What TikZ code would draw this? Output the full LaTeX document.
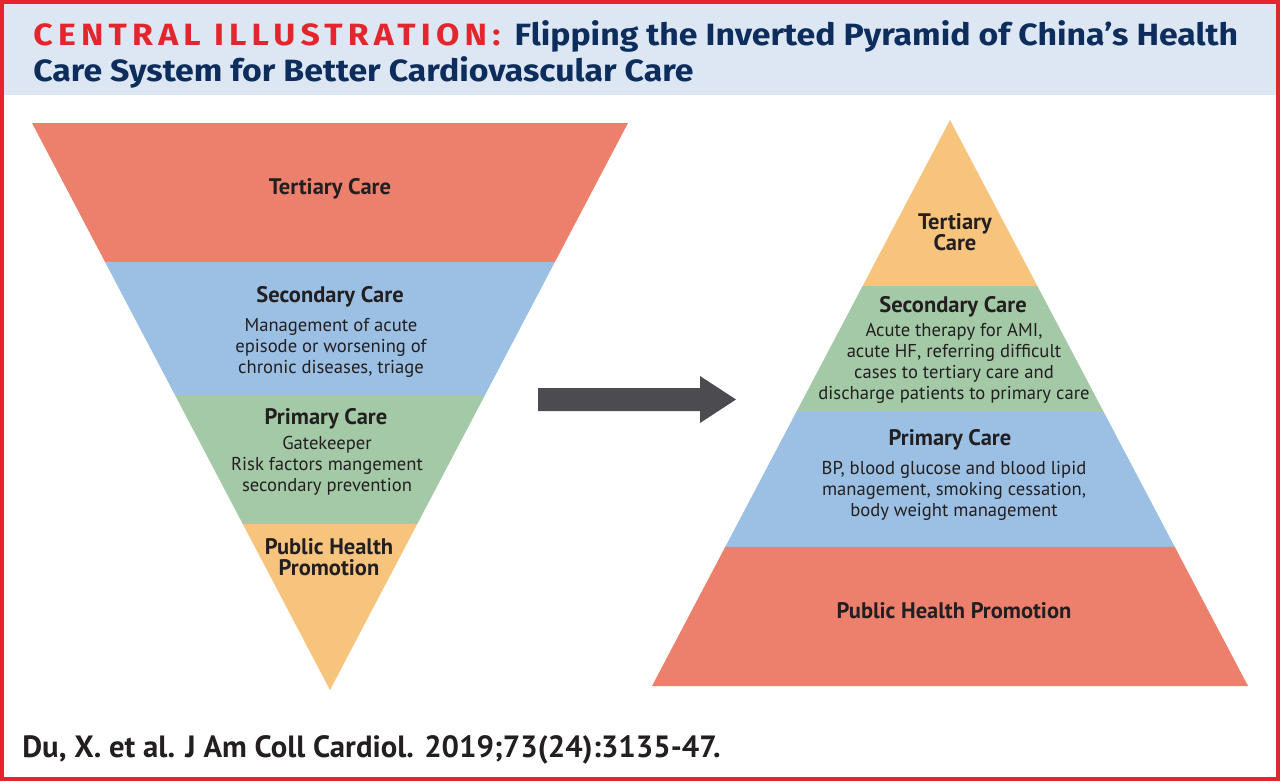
\documentclass[tikz,border=0pt]{standalone}
\usepackage{fontspec}
\setmainfont{PT Sans}
\newfontfamily\titlefont[FakeStretch=1.1]{Fira Sans}
\newfontfamily\capsfont[FakeStretch=1.1,LetterSpace=17]{Fira Sans}
\usetikzlibrary{calc}

\definecolor{framered}{HTML}{E3262D}
\definecolor{bandblue}{HTML}{DDE7F4}
\definecolor{titleblue}{HTML}{0D2D5C}
\definecolor{salmon}{HTML}{EC806C}
\definecolor{sky}{HTML}{9CC0E3}
\definecolor{sage}{HTML}{A4C9A7}
\definecolor{apricot}{HTML}{F7C47E}
\definecolor{ink}{HTML}{231F20}
\definecolor{arrowgrey}{HTML}{4B4B50}

\begin{document}
\begin{tikzpicture}[x=0.02cm,y=-0.02cm,
	heading/.style={font=\bfseries\fontsize{12.8}{12}\selectfont,text=ink,align=center,inner sep=0pt},
	detail/.style={font=\fontsize{10.6}{11.9}\selectfont,text=ink,align=center,inner sep=0pt}]
	\useasboundingbox (0,0) rectangle (1280,781);
	% header
	\fill[bandblue] (4,4) rectangle (1276,95);
	\draw[framered,line width=2.27pt] (2,2) rectangle (1278,779);
	\node[anchor=base west,inner sep=0pt,font=\titlefont\bfseries\fontsize{17.5}{22}\selectfont] (title1) at (33,45)
		{\textcolor{framered}{\capsfont CENTRAL ILLUSTRATION:}\hspace{0.2em} \textcolor{titleblue}{Flipping the Inverted Pyramid of China’s Health}};
	\node[anchor=base west,inner sep=0pt,font=\titlefont\bfseries\fontsize{17.5}{22}\selectfont,text=titleblue] (title2) at (33,81)
		{Care System for Better Cardiovascular Care};
	
	% inverted pyramid
	\coordinate (ltl) at (32,123);
	\coordinate (ltr) at (628,123);
	\coordinate (lap) at (330,690);
	\coordinate (l1l) at ($(ltl)!0.2451!(lap)$);
	\coordinate (l1r) at ($(ltr)!0.2451!(lap)$);
	\coordinate (l2l) at ($(ltl)!0.4815!(lap)$);
	\coordinate (l2r) at ($(ltr)!0.4815!(lap)$);
	\coordinate (l3l) at ($(ltl)!0.7072!(lap)$);
	\coordinate (l3r) at ($(ltr)!0.7072!(lap)$);
	\fill[salmon] (ltl) -- (ltr) -- (l1r) -- (l1l) -- cycle;
	\fill[sky] (l1l) -- (l1r) -- (l2r) -- (l2l) -- cycle;
	\fill[sage] (l2l) -- (l2r) -- (l3r) -- (l3l) -- cycle;
	\fill[apricot] (l3l) -- (l3r) -- (lap) -- cycle;
	
	\node[heading,anchor=base] (ltert) at (330,194) {Tertiary Care};
	\node[heading,anchor=base] (lsec) at (330,302) {Secondary Care};
	\node[detail] (lsectext) at (331,348) {Management of acute\\episode or worsening of\\chronic diseases, triage};
	\node[heading,anchor=base] (lprim) at (326,424) {Primary Care};
	\node[detail] (lprimtext) at (327,466) {Gatekeeper\\Risk factors mangement\\secondary prevention};
	\node[heading] (lpub) at (329,557) {Public Health\\Promotion};
	
	% flip arrow
	\coordinate (flip) at (538,399.5);
	\fill[arrowgrey] (flip) ++(0,-11.5) -- ++(162,0) -- ++(0,-12) -- (736,399.5)
		-- (700,423) -- ++(0,-12) -- (538,411) -- cycle;
	
	% upright pyramid
	\coordinate (rap) at (950,120);
	\coordinate (rbl) at (652,686);
	\coordinate (rbr) at (1248,686);
	\coordinate (r1l) at ($(rap)!0.2933!(rbl)$);
	\coordinate (r1r) at ($(rap)!0.2933!(rbr)$);
	\coordinate (r2l) at ($(rap)!0.5159!(rbl)$);
	\coordinate (r2r) at ($(rap)!0.5159!(rbr)$);
	\coordinate (r3l) at ($(rap)!0.7544!(rbl)$);
	\coordinate (r3r) at ($(rap)!0.7544!(rbr)$);
	\fill[apricot] (rap) -- (r1r) -- (r1l) -- cycle;
	\fill[sage] (r1l) -- (r1r) -- (r2r) -- (r2l) -- cycle;
	\fill[sky] (r2l) -- (r2r) -- (r3r) -- (r3l) -- cycle;
	\fill[salmon] (r3l) -- (r3r) -- (rbr) -- (rbl) -- cycle;
	
	\node[heading] (rtert) at (955,232) {Tertiary\\Care};
	\node[heading,anchor=base] (rsec) at (953,312) {Secondary Care};
	\node[detail] (rsectext) at (954,363) {Acute therapy for AMI,\\acute HF, referring difficult\\cases to tertiary care and\\discharge patients to primary care};
	\node[heading,anchor=base] (rprim) at (950,445) {Primary Care};
	\node[detail] (rprimtext) at (954,491) {BP, blood glucose and blood lipid\\management, smoking cessation,\\body weight management};
	\node[heading,anchor=base] (rpub) at (954,618) {Public Health Promotion};
	
	% reference
	\node[anchor=base west,inner sep=0pt,font=\bfseries\fontsize{17.5}{20}\selectfont,text=ink] (cite) at (22,757)
		{Du, X. et al. J Am Coll Cardiol. 2019;73(24):3135-47.};
\end{tikzpicture}
\end{document}
